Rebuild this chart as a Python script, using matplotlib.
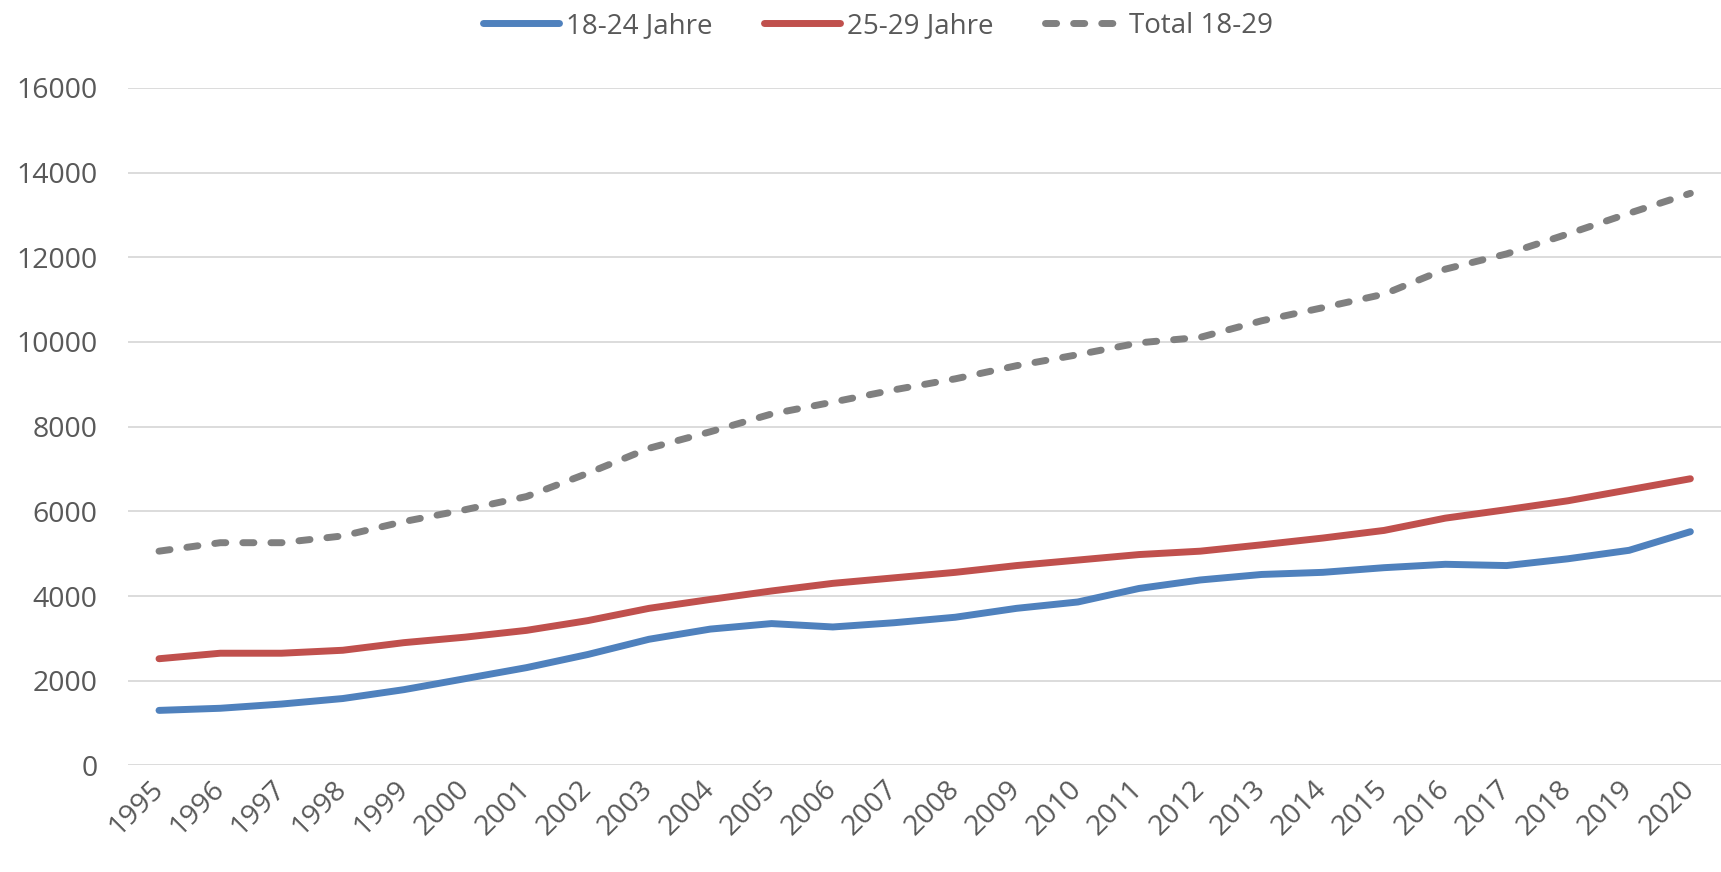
import matplotlib
matplotlib.use("Agg")
import matplotlib.pyplot as plt
import numpy as np

# values
years = [str(y) for y in range(1995, 2021)]
age_18_24 = [1300, 1350, 1450, 1580, 1790, 2050, 2310, 2620, 2980, 3220,
             3350, 3270, 3370, 3500, 3710, 3860, 4180, 4380, 4510, 4560,
             4670, 4750, 4720, 4880, 5080, 5520]
age_25_29 = [2520, 2650, 2650, 2720, 2900, 3030, 3190, 3420, 3710, 3920,
             4120, 4300, 4430, 4560, 4720, 4850, 4980, 5060, 5210, 5370,
             5550, 5840, 6040, 6250, 6510, 6770]
total_18_29 = [5060, 5260, 5260, 5420, 5760, 6040, 6350, 6900, 7490, 7880,
               8300, 8580, 8870, 9130, 9440, 9700, 9980, 10110, 10500, 10810,
               11130, 11720, 12080, 12550, 13040, 13510]
series_names = ["18-24 Jahre", "25-29 Jahre", "Total 18-29"]

plt.rcParams['font.family'] = ['Open Sans', 'DejaVu Sans']

fig = plt.figure(figsize=(17.21, 8.72), dpi=100)
ax = fig.add_axes([0.0746, 0.1222, 0.9254, 0.777])

x = np.arange(len(years))
ax.plot(x, age_18_24, color='#4F81BD', linewidth=5, solid_capstyle='round', label=series_names[0])
ax.plot(x, age_25_29, color='#C0504D', linewidth=5, solid_capstyle='round', label=series_names[1])
ax.plot(x, total_18_29, color='#808080', linewidth=5, dashes=(1.6, 2.45),
        dash_capstyle='round', label=series_names[2])

ax.set_xlim(-0.5, len(years) - 0.5)
ax.set_ylim(0, 16000)
ax.set_yticks(range(0, 16001, 2000))
ax.set_xticks(x)
ax.set_xticklabels(years, rotation=45, ha='right', va='center', rotation_mode='anchor')

ax.grid(axis='y', color='#D9D9D9', linewidth=1.3)
ax.set_axisbelow(True)
for s in ax.spines.values():
    s.set_visible(False)
ax.tick_params(axis='both', length=0, labelsize=20.5, labelcolor='#595959')
ax.tick_params(axis='y', pad=22)
ax.tick_params(axis='x', pad=14)

fig.legend(loc='center', bbox_to_anchor=(0.51, 0.97), ncol=3, frameon=False,
           fontsize=20, labelcolor='#595959', handlelength=2.75, handletextpad=0.25,
           columnspacing=1.85)

plt.savefig("out.png", dpi=100)
